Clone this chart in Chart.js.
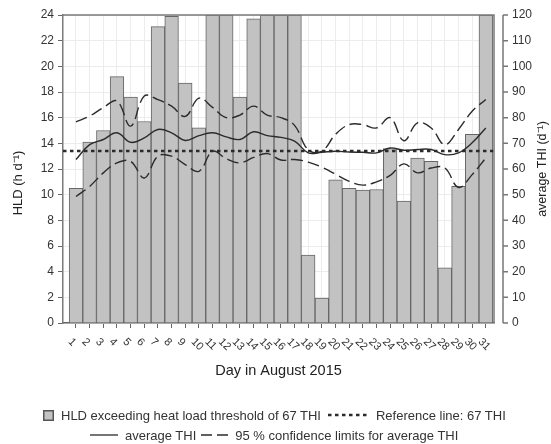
<!DOCTYPE html>
<html>
<head>
<meta charset="utf-8">
<title>HLD and THI, August 2015</title>
<script src="https://cdn.jsdelivr.net/npm/chart.js@4.4.1/dist/chart.umd.min.js"></script>
<style>
  html, body { margin: 0; padding: 0; background: #fff; }
  #wrap { position: relative; width: 551px; height: 444px; }
  #legend { position: absolute; left: 0; top: 0; width: 551px; height: 444px; pointer-events: none;
            font: 13px "Liberation Sans", Arial, sans-serif; color: #333; }
  .row { position: absolute; display: flex; align-items: center; white-space: nowrap; height: 16px; }
  .row svg { display: block; flex: none; }
</style>
</head>
<body>
<div id="wrap">
  <canvas id="chart" width="551" height="444"></canvas>
  <div id="legend"></div>
</div>
<script>
// Tag im August 2015
const days = [1, 2, 3, 4, 5, 6, 7, 8, 9, 10, 11, 12, 13, 14, 15, 16,
              17, 18, 19, 20, 21, 22, 23, 24, 25, 26, 27, 28, 29, 30, 31];

// Stunden ueber der Hitzeschwelle (h/d)
const hld = [10.5, 14.1, 15.0, 19.2, 17.6, 15.7, 23.1, 23.9, 18.7, 15.2, 24, 24, 17.6, 23.7, 24, 24,
             24, 5.3, 1.95, 11.15, 10.5, 10.35, 10.4, 13.6, 9.5, 12.85, 12.6, 4.3, 10.65, 14.7, 24];

// mittlerer THI und 95 % Konfidenzgrenzen
const thiMean = [63.7, 69.5, 71.5, 74.1, 70.4, 72.1, 75.4, 74.1, 71.1, 73.0, 74.1, 72.5, 71.5, 74.5, 73.0, 72.3,
                 70.9, 66.3, 66.5, 66.9, 66.6, 66.5, 66.3, 68.2, 67.3, 67.6, 67.6, 65.6, 66.3, 70.2, 76.0];
const thiUpper = [78.4, 80.6, 83.9, 86.5, 76.7, 88.4, 87.0, 84.5, 80.5, 87.6, 84.0, 80.0, 81.0, 84.5, 81.0, 80.0,
                  77.0, 67.5, 67.0, 73.5, 77.3, 77.3, 76.0, 80.0, 71.0, 78.0, 76.0, 69.5, 75.4, 82.5, 87.1];
const thiLower = [49.3, 53.2, 58.5, 62.4, 63.0, 56.5, 65.0, 65.0, 61.7, 59.1, 66.9, 64.0, 62.4, 64.5, 66.0, 63.5,
                  63.7, 62.7, 60.7, 58.0, 55.2, 53.7, 55.0, 57.5, 62.0, 58.5, 60.4, 60.4, 52.8, 57.8, 64.3];

const refTHI = 67;

// Achsen
const hldMax = 24, hldStep = 2;
const thiMax = 120, thiStep = 10;
const xMin = 0.05, xMax = 31.6;

const FONT = '"Liberation Sans", Arial, sans-serif';
const INK = '#2b2b2b';

// Rahmen, versetzte rechte Achse, gedrehte Tageslabels und Achsentitel
const framePlugin = {
    id: 'frame',
    afterDatasetsDraw(chart) {
        const { ctx, chartArea: a } = chart;
        ctx.save();
        ctx.strokeStyle = '#7a7a7a';
        ctx.lineWidth = 1.5;
        ctx.beginPath();
        ctx.moveTo(a.left, a.top);
        ctx.lineTo(a.right, a.top);
        ctx.lineTo(a.right, a.bottom);
        ctx.stroke();
        ctx.restore();
    },
    afterDraw(chart) {
        const { ctx, chartArea: a } = chart;
        const r = chart.scales.thi;
        const axX = a.right + 9;

        ctx.save();
        ctx.strokeStyle = '#777';
        ctx.lineWidth = 1.5;
        ctx.beginPath();
        ctx.moveTo(axX, a.top);
        ctx.lineTo(axX, a.bottom);
        r.ticks.forEach(t => {
            const y = r.getPixelForValue(t.value);
            ctx.moveTo(axX, y);
            ctx.lineTo(axX + 5, y);
        });
        ctx.stroke();

        // Tage, schraeg nach unten gelesen
        const xs = chart.scales.x;
        ctx.fillStyle = '#333';
        ctx.font = '11px ' + FONT;
        ctx.textAlign = 'left';
        ctx.textBaseline = 'middle';
        days.forEach(d => {
            ctx.save();
            ctx.translate(xs.getPixelForValue(d) - 6, a.bottom + 17);
            ctx.rotate(Math.PI / 4);
            ctx.fillText(String(d), 0, 0);
            ctx.restore();
        });

        // beide y-Titel lesen von unten nach oben
        ctx.fillStyle = '#222';
        ctx.textAlign = 'center';
        ctx.font = '13px ' + FONT;
        ctx.save();
        ctx.translate(18, (a.top + a.bottom) / 2 + 14);
        ctx.rotate(-Math.PI / 2);
        ctx.fillText('HLD (h d\u207B\u00B9)', 0, 0);
        ctx.restore();

        ctx.font = '12.5px ' + FONT;
        ctx.save();
        ctx.translate(543, (a.top + a.bottom) / 2);
        ctx.rotate(-Math.PI / 2);
        ctx.fillText('average THI (d\u207B\u00B9)', 0, 0);
        ctx.restore();
        ctx.restore();
    }
};

const lineBase = {
    type: 'line',
    yAxisID: 'thi',
    borderColor: INK,
    borderWidth: 1.4,
    pointRadius: 0,
    fill: false,
    tension: 0.4
};

const chart = new Chart(document.getElementById('chart'), {
    data: {
        labels: days,
        datasets: [
            { ...lineBase, label: 'average THI', data: thiMean },
            { ...lineBase, label: '95 % confidence limits for average THI', data: thiUpper, borderDash: [12, 5] },
            { ...lineBase, label: '95 % lower', data: thiLower, borderDash: [12, 5] },
            {
                ...lineBase,
                label: 'Reference line: 67 THI',
                data: [{ x: xMin, y: refTHI }, { x: xMax, y: refTHI }],
                borderDash: [3.5, 3.5],
                borderWidth: 2.6,
                tension: 0
            },
            {
                type: 'bar',
                label: 'HLD exceeding heat load threshold of 67 THI',
                yAxisID: 'hld',
                data: hld,
                backgroundColor: '#c2c2c2',
                borderColor: '#666',
                borderWidth: 1,
                barPercentage: 1,
                categoryPercentage: 1
            }
        ]
    },
    options: {
        responsive: false,
        animation: false,
        layout: { padding: { top: 15, right: 0, bottom: 59, left: 0 } },
        plugins: { legend: { display: false }, tooltip: { enabled: false } },
        scales: {
            x: {
                type: 'linear',
                bounds: 'data',
                offset: false,
                min: xMin,
                max: xMax,
                afterBuildTicks: s => { s.ticks = days.map(d => ({ value: d })); },
                afterFit: s => { s.height = 62; },
                ticks: { display: false },
                grid: { offset: false, color: '#ececec', tickColor: '#666', tickLength: 5, drawTicks: true },
                border: { color: '#666', width: 1.5 },
                title: {
                    display: true,
                    text: 'Day in August 2015',
                    color: '#222',
                    font: { family: FONT, size: 14.5 },
                    padding: { top: 0, bottom: 5 }
                }
            },
            hld: {
                position: 'left',
                min: 0,
                max: hldMax,
                afterFit: s => { s.width = 63; },
                ticks: { stepSize: hldStep, color: '#333', padding: 4, font: { family: FONT, size: 12 } },
                grid: { color: '#ececec', tickColor: '#666', tickLength: 5 },
                border: { color: '#7a7a7a', width: 1.5 }
            },
            thi: {
                position: 'right',
                min: 0,
                max: thiMax,
                afterFit: s => { s.width = 57; },
                ticks: { stepSize: thiStep, color: '#333', padding: 5, font: { family: FONT, size: 12 } },
                grid: { drawOnChartArea: false, tickColor: 'rgba(0,0,0,0)', tickLength: 13 },
                border: { display: false }
            }
        }
    },
    plugins: [framePlugin]
});

// Legende wie im Original in zwei Zeilen
function sym(kind) {
    if (kind === 'box') {
        return '<svg width="11" height="11"><rect x="0.75" y="0.75" width="9.5" height="9.5" fill="#c2c2c2" stroke="#555" stroke-width="1.5"/></svg>';
    }
    const specs = {
        dot: { w: 41, dash: '3.5 3.5', sw: 2.6 },
        solid: { w: 28, dash: 'none', sw: 1.3 },
        dash: { w: 27, dash: '11 5', sw: 1.3 }
    };
    const s = specs[kind];
    return `<svg width="${s.w}" height="6"><line x1="0" y1="3" x2="${s.w}" y2="3" stroke="${INK}" stroke-width="${s.sw}" stroke-dasharray="${s.dash}"/></svg>`;
}

const ds = chart.data.datasets;
const rows = [
    { left: 43, top: 407, items: [['box', ds[4].label, 7, 7], ['dot', ds[3].label, 7, 17]] },
    { left: 90, top: 427, items: [['solid', ds[0].label, 7, 5], ['dash', ds[1].label, 7, 0]] }
];
document.getElementById('legend').innerHTML = rows.map(r =>
    `<div class="row" style="left:${r.left}px;top:${r.top}px">` +
    r.items.map(([k, text, gap, after]) =>
        `${sym(k)}<span style="margin-left:${gap}px;margin-right:${after}px">${text}</span>`).join('') +
    '</div>').join('');
</script>
</body>
</html>
